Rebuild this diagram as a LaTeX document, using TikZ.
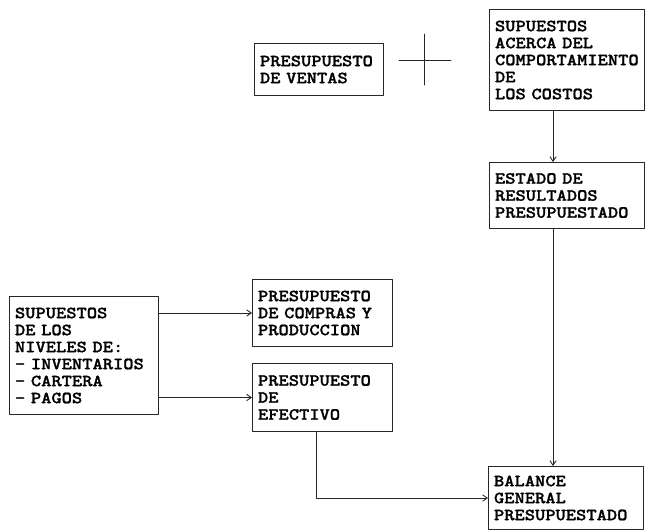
\documentclass[tikz,border=0pt]{standalone}
\usepackage{fontspec}
\newfontfamily\maquina{lmmonolt10-bold.otf}[FakeBold=1.2,FakeStretch=1.15]
\usetikzlibrary{arrows.meta,positioning,calc}

\begin{document}
\begin{tikzpicture}[
 x=1pt,y=-1pt,font=\fontsize{17}{17}\selectfont\maquina,
 line cap=round,line join=round,
 box/.style={draw=black!85,line width=1pt,fill=white,anchor=north west,
   align=left,inner xsep=5.5pt,inner ysep=0pt},
 wire/.style={draw=black!85,line width=.9pt,-{Straight Barb[length=1.6mm,width=2.2mm]}},
 plain/.style={draw=black!85,line width=.9pt}]
\path[use as bounding box] (0,0) rectangle (646,530);

% columna central y superior
\node[box,text width=118pt,minimum width=129pt,minimum height=52pt]
  (ventas) at (254,43) {PRESUPUESTO\\DE VENTAS};
\coordinate (cruz) at (424,60);
\draw[plain] ([xshift=-25pt]cruz) -- ([xshift=27pt]cruz);
\draw[plain] ([yshift=-25pt]cruz) -- ([yshift=26pt]cruz);

% columna derecha
\node[box,text width=144pt,minimum width=155pt,minimum height=101pt]
  (costos) at (489,9) {SUPUESTOS\\ACERCA DEL\\COMPORTAMIENTO\\DE\\LOS COSTOS};
\node[box,text width=144pt,minimum width=155pt,minimum height=66pt]
  (estado) at (489,162) {ESTADO DE\\RESULTADOS\\PRESUPUESTADO};
\node[box,text width=144pt,minimum width=155pt,minimum height=63pt]
  (balance) at (488,466) {BALANCE\\GENERAL\\PRESUPUESTADO};

% columna izquierda
\node[box,text width=138pt,minimum width=149pt,minimum height=118pt]
  (niveles) at (9,296) {SUPUESTOS\\DE LOS\\NIVELES DE:\\- INVENTARIOS\\- CARTERA\\- PAGOS};
\node[box,text width=129pt,minimum width=140pt,minimum height=67pt]
  (compras) at (252,279) {PRESUPUESTO\\DE COMPRAS Y\\PRODUCCION};
\node[box,text width=129pt,minimum width=140pt,minimum height=68pt]
  (efectivo) at (252,363) {PRESUPUESTO\\DE\\EFECTIVO};

% conexiones
\draw[wire] ([xshift=-14pt]costos.south) -- ([xshift=-14pt]estado.north);
\draw[wire] ([xshift=-14pt]estado.south) -- ([xshift=-13pt]balance.north);
\draw[wire] (niveles.east |- compras.west) -- (compras.west);
\draw[wire] (niveles.east |- efectivo.west) -- (efectivo.west);
\draw[wire] ([xshift=-6pt]efectivo.south) |- (balance.west);
\end{tikzpicture}
\end{document}
